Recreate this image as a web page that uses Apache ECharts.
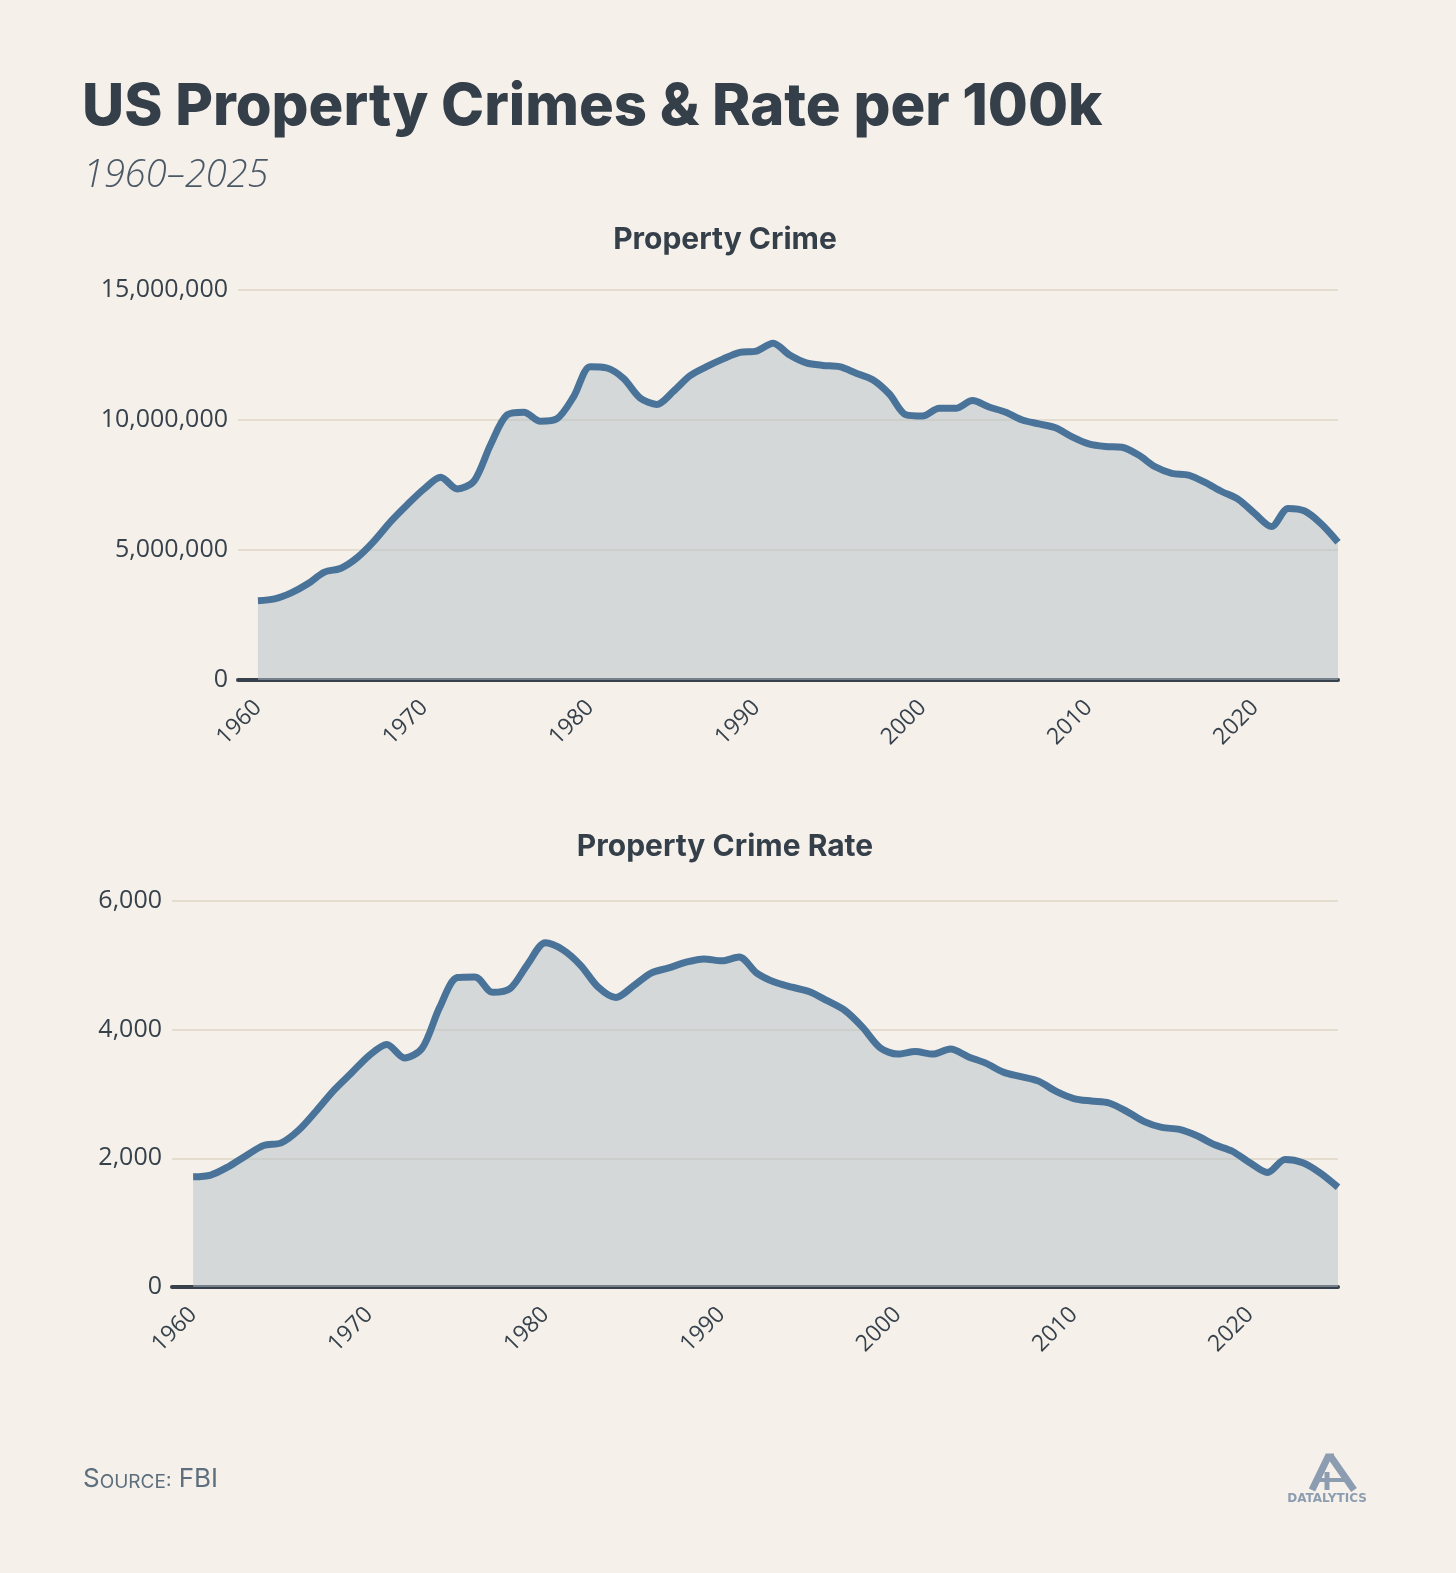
<!DOCTYPE html>
<html>
<head>
<meta charset="utf-8">
<title>US Property Crimes & Rate per 100k</title>
<script src="https://cdn.jsdelivr.net/npm/echarts@6/dist/echarts.min.js"></script>
<style>
  html, body { margin: 0; padding: 0; background: #f5f1ea; }
  #main { width: 1456px; height: 1573px; }
</style>
</head>
<body>
<div id="main"></div>
<script>
// years 1960..2025
const years = Array.from({ length: 66 }, (_, i) => 1960 + i);
const decadeTicks = [1960, 1970, 1980, 1990, 2000, 2010, 2020];

// property crimes, total count
const propertyCrime = [
  3050000, 3120000, 3350000, 3700000, 4150000, 4300000, 4720000, 5350000, 6100000, 6750000,
  7350000, 7800000, 7350000, 7650000, 9050000, 10200000, 10300000, 9950000, 10050000, 10900000,
  12050000, 12000000, 11600000, 10850000, 10600000, 11100000, 11700000, 12050000, 12350000, 12600000,
  12650000, 12950000, 12500000, 12200000, 12100000, 12050000, 11800000, 11550000, 11000000, 10200000,
  10150000, 10450000, 10450000, 10750000, 10500000, 10300000, 10000000, 9850000, 9700000, 9350000,
  9080000, 8980000, 8950000, 8650000, 8200000, 7950000, 7880000, 7600000, 7250000, 6950000,
  6400000, 5900000, 6600000, 6500000, 6000000, 5300000
];

// property crime rate per 100k
const crimeRate = [
  1712, 1740, 1870, 2040, 2200, 2240, 2440, 2740, 3060, 3330,
  3600, 3770, 3560, 3710, 4350, 4810, 4820, 4580, 4640, 5020,
  5350, 5240, 5000, 4660, 4500, 4680, 4880, 4960, 5050, 5100,
  5070, 5130, 4880, 4740, 4660, 4590, 4450, 4300, 4040, 3720,
  3620, 3660, 3620, 3700, 3580, 3480, 3340, 3270, 3200, 3040,
  2930, 2890, 2860, 2730, 2570, 2480, 2450, 2350, 2210, 2110,
  1930, 1780, 1980, 1930, 1770, 1550
];

const crimeTicks = [0, 5000000, 10000000, 15000000];
const rateTicks = [0, 2000, 4000, 6000];

const ink = '#36414c';
const lineColor = '#4a7399';
const labelFont = '"Open Sans", sans-serif';

const chart = echarts.init(document.getElementById('main'));

function xAxisFor(gridIndex) {
  return {
    type: 'value',
    gridIndex: gridIndex,
    min: 1958.8,
    max: 2025,
    axisLine: { show: true, onZero: false, lineStyle: { color: ink, width: 4 } },
    axisTick: { show: false },
    splitLine: { show: false },
    axisLabel: {
      customValues: decadeTicks,
      rotate: 45,
      margin: 24,
      fontSize: 23,
      color: ink,
      fontFamily: labelFont,
      formatter: v => String(v)
    }
  };
}

function yAxisFor(gridIndex, ticks) {
  return {
    type: 'value',
    gridIndex: gridIndex,
    min: ticks[0],
    max: ticks[ticks.length - 1],
    interval: ticks[1] - ticks[0],
    axisLine: { show: false },
    axisTick: { show: false },
    splitLine: { show: true, lineStyle: { color: '#e4ddcf', width: 2 } },
    axisLabel: {
      margin: 10,
      fontSize: 25,
      color: ink,
      fontFamily: labelFont,
      formatter: v => v.toLocaleString('en-US')
    }
  };
}

function areaSeries(idx, values) {
  return {
    type: 'line',
    xAxisIndex: idx,
    yAxisIndex: idx,
    data: years.map((y, i) => [y, values[i]]),
    smooth: 0.3,
    showSymbol: false,
    lineStyle: { color: lineColor, width: 7 },
    areaStyle: { color: '#b3bfc8', opacity: 0.5 },
    z: 3
  };
}

const option = {
  backgroundColor: '#f5f1ea',
  animation: false,
  grid: [
    { left: 238, top: 290, width: 1100, height: 390 },
    { left: 172, top: 901, width: 1166, height: 386 }
  ],
  xAxis: [xAxisFor(0), xAxisFor(1)],
  yAxis: [yAxisFor(0, crimeTicks), yAxisFor(1, rateTicks)],
  series: [areaSeries(0, propertyCrime), areaSeries(1, crimeRate)],
  graphic: [
    {
      type: 'text', x: 82, y: 108,
      style: {
        text: 'US Property Crimes & Rate per 100k',
        font: '800 58px Inter, "DejaVu Sans", sans-serif',
        fill: '#353f4a',
        verticalAlign: 'middle'
      }
    },
    {
      type: 'text', x: 83, y: 176,
      style: {
        text: '1960–2025',
        font: 'italic 300 38px "Open Sans", sans-serif',
        fill: '#4b5866',
        verticalAlign: 'middle'
      }
    },
    {
      type: 'text', x: 725, y: 240,
      style: {
        text: 'Property Crime',
        font: 'bold 30px Inter, sans-serif',
        fill: '#353f4a',
        align: 'center', verticalAlign: 'middle'
      }
    },
    {
      type: 'text', x: 725, y: 847,
      style: {
        text: 'Property Crime Rate',
        font: 'bold 30px Inter, sans-serif',
        fill: '#353f4a',
        align: 'center', verticalAlign: 'middle'
      }
    },
    {
      type: 'text', left: 83, top: 1466,
      style: {
        text: '{big|S}{small|OURCE:}{big| FBI}',
        fill: '#5d6e7e',
        rich: {
          big: { fontSize: 26, fontFamily: 'Inter, sans-serif', fill: '#5d6e7e', verticalAlign: 'bottom' },
          small: { fontSize: 19, fontFamily: 'Inter, sans-serif', fill: '#5d6e7e', verticalAlign: 'bottom' }
        }
      }
    },
    // logo mark
    {
      type: 'group',
      children: [
        { type: 'polyline', shape: { points: [[1312, 1490], [1328, 1457], [1334, 1457]] }, style: { stroke: '#8c9cb1', lineWidth: 7, fill: null } },
        { type: 'polyline', shape: { points: [[1331, 1457], [1354, 1490]] }, style: { stroke: '#8c9cb1', lineWidth: 7 } },
        { type: 'polyline', shape: { points: [[1327, 1472], [1327, 1490]] }, style: { stroke: '#8c9cb1', lineWidth: 5 } },
        { type: 'polyline', shape: { points: [[1320, 1480], [1345, 1480]] }, style: { stroke: '#8c9cb1', lineWidth: 4 } },
        {
          type: 'text', x: 1327, y: 1499,
          style: {
            text: 'DATALYTICS',
            font: 'bold 12px "DejaVu Sans", sans-serif',
            fill: '#8c9cb1',
            align: 'center', verticalAlign: 'middle'
          }
        }
      ]
    }
  ]
};

chart.setOption(option);
</script>
</body>
</html>
